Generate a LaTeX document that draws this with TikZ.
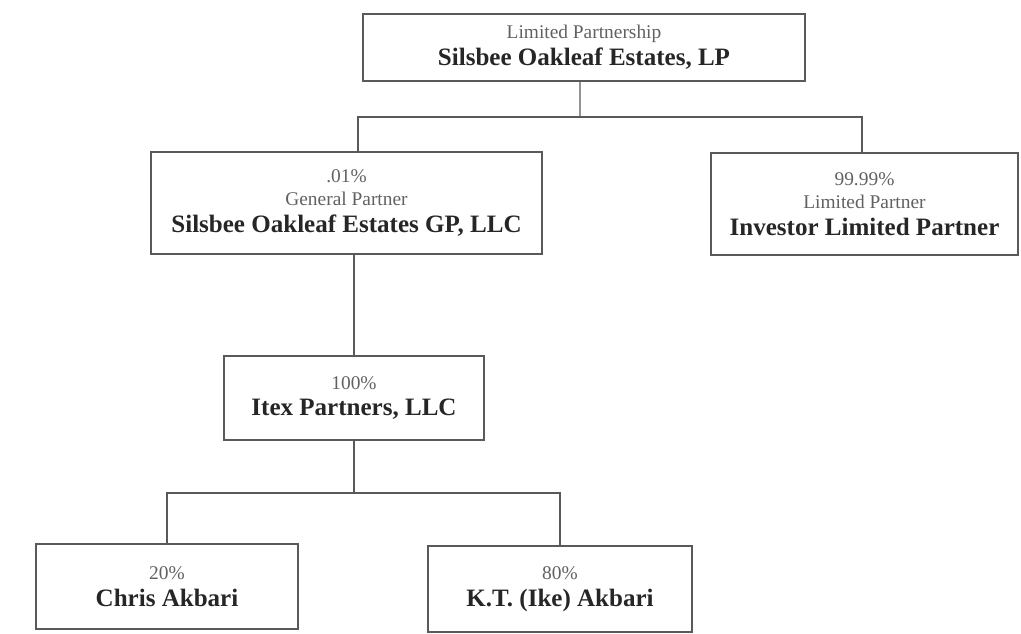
\documentclass[tikz,border=0pt]{standalone}
\usepackage{fontspec}
\setmainfont{Liberation Serif}
\usepackage{tikz}

% text styles used inside the boxes
\newcommand{\role}[1]{{\fontsize{13.8}{16.5}\selectfont\color{black!62}#1}}
\newcommand{\entity}[1]{{\fontsize{17.8}{16.5}\selectfont\bfseries\color{black!85}#1}}

\begin{document}
\begin{tikzpicture}[
    x=0.025cm, y=-0.025cm,
    box/.style={draw=black!65, line width=0.9pt, align=center, inner sep=2pt},
    link/.style={draw=black!65, line width=0.9pt},
    font=\fontsize{13.8}{16.5}\selectfont
]
    \useasboundingbox (0,0) rectangle (1021,633);

    % 实体框 (6个)
    \node[box, minimum width=11.05cm, minimum height=1.675cm] (LP) at (584,47.5)
        {\role{Limited Partnership}\\[2.5pt]\entity{Silsbee Oakleaf Estates, LP}};
    \node[box, minimum width=9.775cm, minimum height=2.55cm] (GP) at (346.5,203)
        {\role{.01\%}\\\role{General Partner}\\[2.5pt]\entity{Silsbee Oakleaf Estates GP, LLC}};
    \node[box, minimum width=7.675cm, minimum height=2.55cm] (ILP) at (864.5,204)
        {\role{99.99\%}\\\role{Limited Partner}\\[2.5pt]\entity{Investor Limited Partner}};
    \node[box, minimum width=6.5cm, minimum height=2.1cm] (Itex) at (354,398)
        {\role{100\%}\\[2.5pt]\entity{Itex Partners, LLC}};
    \node[box, minimum width=6.55cm, minimum height=2.125cm] (Chris) at (167,586.5)
        {\role{20\%}\\[2.5pt]\entity{Chris Akbari}};
    \node[box, minimum width=6.6cm, minimum height=2.15cm] (KT) at (560,589)
        {\role{80\%}\\[2.5pt]\entity{K.T. (Ike) Akbari}};

    % 连线: LP 分到两个合伙人
    \coordinate (split1) at (580,117);
    \draw[link] ([xshift=-0.1cm]LP.south) -- (split1);
    \draw[link] (split1) -| ([xshift=0.2875cm]GP.north);
    \draw[link] (split1) -| ([xshift=-0.0625cm]ILP.north);

    % GP 到 Itex
    \draw[link] (Itex.north |- GP.south) -- (Itex.north);

    % Itex 分到两个成员
    \coordinate (split2) at (354,493);
    \draw[link] (Itex.south) -- (split2);
    \draw[link] (split2) -| (Chris.north);
    \draw[link] (split2) -| (KT.north);

\end{tikzpicture}
\end{document}
